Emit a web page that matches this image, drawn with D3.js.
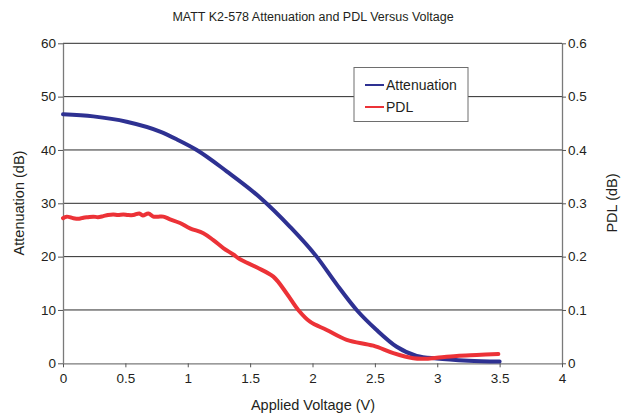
<!DOCTYPE html>
<html><head><meta charset="utf-8">
<script src="https://cdn.jsdelivr.net/npm/d3@7"></script>
<style>
body{margin:0;background:#fff;}
text{font-family:"Liberation Sans",Arial,sans-serif;fill:#231f20;}
</style></head>
<body>
<svg id="c" width="626" height="416"></svg>
<script>
const title = "MATT K2-578 Attenuation and PDL Versus Voltage";
const xTicks = [0, 0.5, 1, 1.5, 2, 2.5, 3, 3.5, 4];
const yLeftTicks = [0, 10, 20, 30, 40, 50, 60];
const yRightTicks = [0, 0.1, 0.2, 0.3, 0.4, 0.5, 0.6];

const attVoltage = [0, 0.243, 0.51, 0.778, 0.911, 1.072, 1.312, 1.579, 1.82, 2.033, 2.194, 2.354, 2.514, 2.675, 2.835, 2.995, 3.25, 3.5];
const attValues  = [46.7, 46.3, 45.3, 43.45, 42.0, 40.0, 36.0, 31.1, 25.6, 20.0, 14.8, 10.0, 6.25, 3.1, 1.4, 0.9, 0.5, 0.35];

const pdlVoltage = [0, 0.03, 0.083, 0.13, 0.163, 0.2, 0.243, 0.28, 0.323, 0.36, 0.403, 0.44, 0.484, 0.52, 0.564, 0.612, 0.64, 0.684, 0.724, 0.764, 0.804, 0.858, 0.938, 1.018, 1.125, 1.205, 1.285, 1.365, 1.419, 1.552, 1.686, 1.793, 1.886, 1.98, 2.114, 2.274, 2.487, 2.648, 2.808, 2.9, 2.996, 3.156, 3.316, 3.49];
const pdlValues  = [0.272, 0.275, 0.272, 0.271, 0.273, 0.274, 0.275, 0.274, 0.276, 0.278, 0.279, 0.278, 0.279, 0.278, 0.278, 0.281, 0.277, 0.281, 0.275, 0.275, 0.275, 0.270, 0.263, 0.253, 0.244, 0.231, 0.216, 0.204, 0.195, 0.180, 0.1625, 0.131, 0.100, 0.078, 0.0625, 0.044, 0.033, 0.019, 0.0094, 0.0085, 0.0105, 0.0137, 0.0155, 0.0174];

const seriesNames = ["Attenuation", "PDL"];
const colors = ["#2e3192", "#ec3237"];

const svg = d3.select("#c");
const L = 63, R = 562, T = 43.3, B = 363.3;
const x = d3.scaleLinear().domain([0, 4]).range([L, R]);
const yL = d3.scaleLinear().domain([0, 60]).range([B, T]);
const yR = d3.scaleLinear().domain([0, 0.6]).range([B, T]);

// gridlines
svg.append("g").selectAll("line").data(yLeftTicks.filter(d => d > 0)).join("line")
  .attr("x1", L).attr("x2", R).attr("y1", d => yL(d)).attr("y2", d => yL(d))
  .attr("stroke", "#2b2b2b").attr("stroke-width", 1);

// axes
const gx = svg.append("g").attr("transform", `translate(0,${B})`)
  .call(d3.axisBottom(x).tickValues(xTicks).tickSize(4).tickSizeOuter(0).tickFormat(d3.format("")));
const gl = svg.append("g").attr("transform", `translate(${L},0)`)
  .call(d3.axisLeft(yL).tickValues(yLeftTicks).tickSize(5).tickSizeOuter(0));
const gr = svg.append("g").attr("transform", `translate(${R},0)`)
  .call(d3.axisRight(yR).tickValues(yRightTicks).tickSize(4).tickSizeOuter(0).tickFormat(d3.format("")));
[gx, gl, gr].forEach(g => {
  g.select(".domain").attr("stroke", "#7a7a7a").attr("stroke-width", 1.3);
  g.selectAll(".tick line").attr("stroke", "#555");
  g.selectAll(".tick text").attr("font-size", 13.5).attr("font-family", "Liberation Sans, Arial, sans-serif").attr("fill", "#231f20");
});
gx.selectAll(".tick text").attr("dy", "0.95em");
gl.selectAll(".tick text").attr("x", -7);
gr.selectAll(".tick text").attr("x", 6);

// lines
const attData = attVoltage.map((v, i) => [v, attValues[i]]);
const pdlData = pdlVoltage.map((v, i) => [v, pdlValues[i]]);
svg.append("path").datum(attData)
  .attr("d", d3.line().x(d => x(d[0])).y(d => yL(d[1])).curve(d3.curveMonotoneX))
  .attr("fill", "none").attr("stroke", colors[0]).attr("stroke-width", 4).attr("stroke-linecap", "round");
svg.append("path").datum(pdlData)
  .attr("d", d3.line().x(d => x(d[0])).y(d => yR(d[1])).curve(d3.curveCatmullRom))
  .attr("fill", "none").attr("stroke", colors[1]).attr("stroke-width", 4).attr("stroke-linecap", "round");

// title & labels
svg.append("text").attr("x", 313).attr("y", 21).attr("text-anchor", "middle")
  .attr("font-size", 12.5).text(title);
svg.append("text").attr("x", 313).attr("y", 410).attr("text-anchor", "middle")
  .attr("font-size", 14.5).text("Applied Voltage (V)");
svg.append("text").attr("transform", "translate(24,203) rotate(-90)").attr("text-anchor", "middle")
  .attr("font-size", 14.5).text("Attenuation (dB)");
svg.append("text").attr("transform", "translate(617,203) rotate(-90)").attr("text-anchor", "middle")
  .attr("font-size", 14.5).text("PDL (dB)");

// legend
const lg = svg.append("g");
lg.append("rect").attr("x", 354).attr("y", 67.5).attr("width", 114).attr("height", 54)
  .attr("fill", "#fff").attr("stroke", "#6e6e6e").attr("stroke-width", 1);
seriesNames.forEach((n, i) => {
  const yy = 85 + i * 22;
  lg.append("line").attr("x1", 365).attr("x2", 384).attr("y1", yy).attr("y2", yy)
    .attr("stroke", colors[i]).attr("stroke-width", 2);
  lg.append("text").attr("x", 386).attr("y", yy + 5).attr("font-size", 14).text(n);
});
</script>
</body></html>
